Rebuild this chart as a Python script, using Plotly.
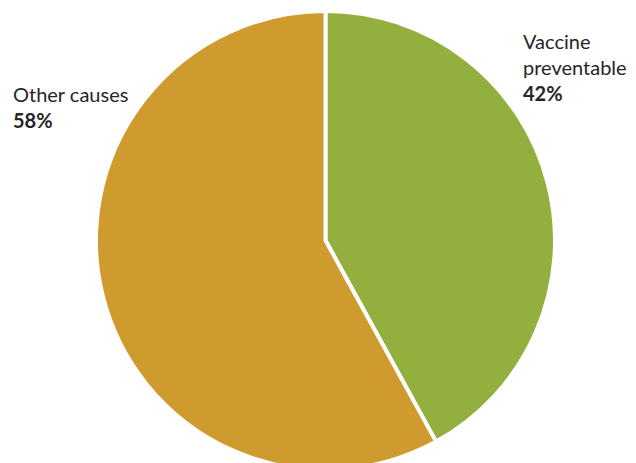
import plotly.graph_objects as go

# Share of deaths by cause
categories = ["Vaccine preventable", "Other causes"]
label_lines = [["Vaccine", "preventable"], ["Other causes"]]
shares = [42, 58]
colors = ["#93B03F", "#CF9A2E"]

W, H = 636, 470

fig = go.Figure(
    go.Pie(
        labels=categories,
        values=shares,
        sort=False,
        direction="clockwise",
        rotation=0,
        textinfo="none",
        hoverinfo="label+percent",
        marker=dict(colors=colors, line=dict(color="white", width=4)),
        domain=dict(x=[95 / W, 556 / W], y=[0, 459 / H]),
        showlegend=False,
    )
)

# Outside labels: category name with the bold share below it
label_pos = [(521, 27), (11, 80)]  # left x, top y in pixels
for lines, val, (px, py) in zip(label_lines, shares, label_pos):
    text = "<br>".join(lines) + f"<br><b>{val}%</b>"
    fig.add_annotation(
        x=px / W, y=1 - py / H, xref="paper", yref="paper",
        xanchor="left", yanchor="top", align="left",
        text=text, showarrow=False,
        font=dict(family="Lato", size=20, color="#262626"),
    )

fig.update_layout(
    width=W, height=H,
    margin=dict(l=0, r=0, t=0, b=0),
    paper_bgcolor="white", plot_bgcolor="white",
)

fig.write_html(
    "out.html",
    post_script="document.documentElement.style.overflow='hidden';document.body.style.overflow='hidden';document.body.style.margin='0';",
)
